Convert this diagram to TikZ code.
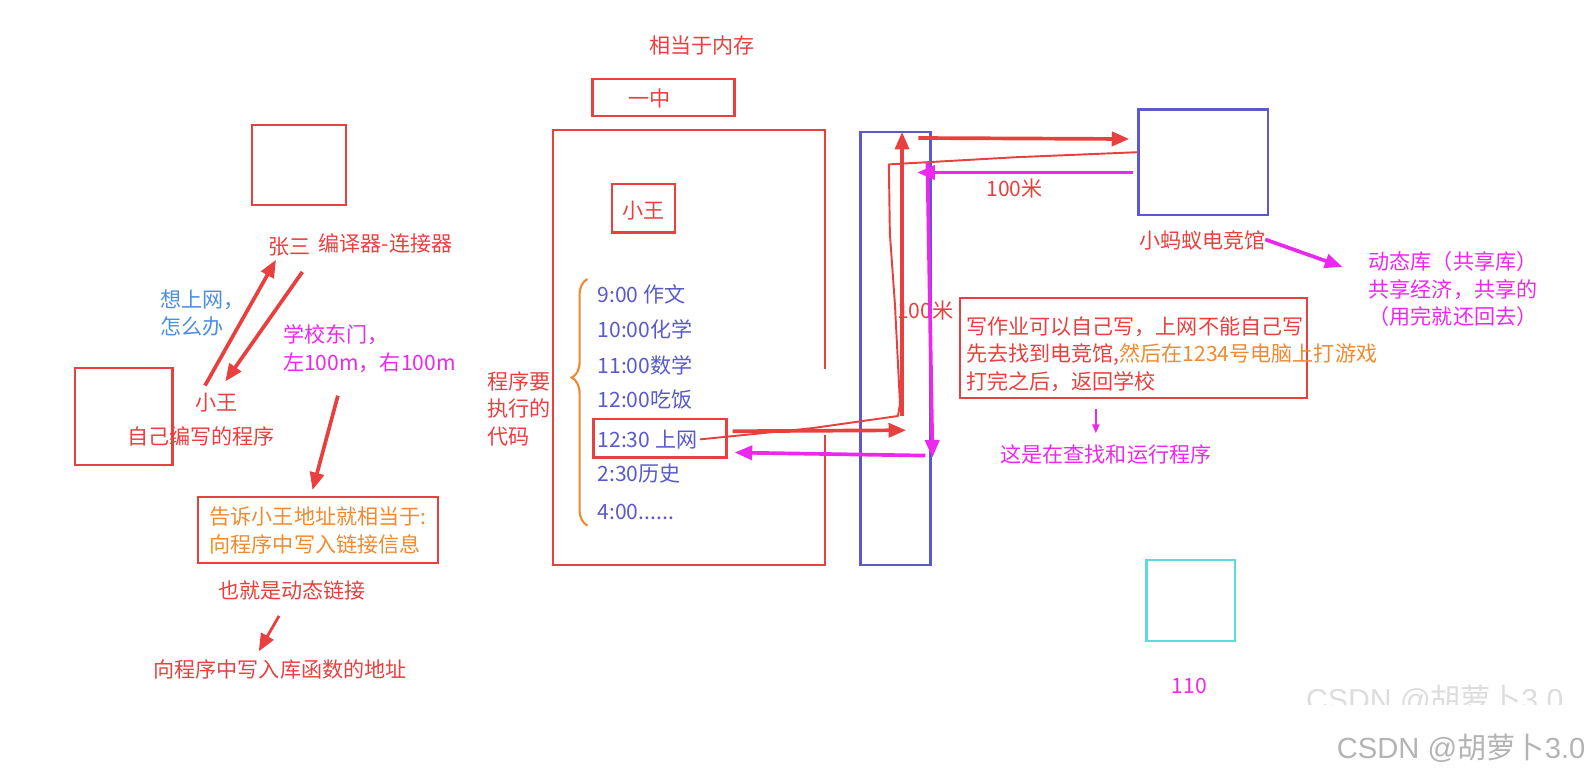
\documentclass[tikz,border=0pt]{standalone}
\usepackage{fontspec}
\setmainfont{Noto Sans CJK SC}
\newfontfamily\marksans{Liberation Sans}
\usetikzlibrary{arrows.meta,decorations.pathreplacing}
\definecolor{penred}{HTML}{E8403F}
\definecolor{penpink}{HTML}{EC28EC}
\definecolor{penorange}{HTML}{EF8A30}
\definecolor{penblue}{HTML}{5A5ACB}
\definecolor{penteal}{HTML}{5ADCDC}
\definecolor{penskyblue}{HTML}{4C8EE0}
\definecolor{markgray}{HTML}{B4B4B4}
\newdimen\pxu \pxu=0.5774pt
\tikzset{every node/.style={inner sep=1pt, font=\fontsize{12}{15.8}\selectfont},
  redbox/.style={draw=penred, line width=1.3pt, inner sep=0pt},
  bluebox/.style={draw=penblue, line width=1.3pt, inner sep=0pt},
  tealbox/.style={draw=penteal, line width=1.3pt, inner sep=0pt},
  redtext/.style={text=penred},
  pinktext/.style={text=penpink},
  listtext/.style={text=penblue, anchor=west},
  redarrow/.style={draw=penred, line width=2.1pt, -{Triangle[length=10pt,width=8pt]}},
  pinkarrow/.style={draw=penpink, line width=2.1pt, -{Triangle[length=10pt,width=8pt]}},
  handline/.style={draw=penred, line width=1.1pt, line join=round}}

\begin{document}
\begin{tikzpicture}[x=0.020294cm, y=-0.020294cm]
  \useasboundingbox (0,0) rectangle (1568,763);
  % left: the program and the linker
  \node[redbox, minimum width=93\pxu, minimum height=79\pxu] (zsbox) at (294.5,162.5) {};
  \node[redbox, minimum width=96\pxu, minimum height=95\pxu] (xwbox) at (122,410.5) {};
  \node[redtext] (zs) at (285,243) {张三};
  \node[redtext] (linker) at (380,240) {编译器-连接器};
  \node[text=penskyblue, anchor=west, align=left] (ask) at (156,308.5) {想上网，\\怎么办};
  \node[pinktext, anchor=west, align=left] (gate) at (277,343.5) {学校东门，\\左100m，右100m};
  \node[redtext] (xw) at (213,397) {小王};
  \node[redtext] (own) at (198,430) {自己编写的程序};
  \node[redbox, minimum width=237\pxu, minimum height=65\pxu, text=penorange, align=left]
    (info) at (313.5,522.5) {告诉小王地址就相当于:\\向程序中写入链接信息};
  \node[redtext] (dyn) at (288,582) {也就是动态链接};
  \node[redtext] (libaddr) at (276,660) {向程序中写入库函数的地址};
  \coordinate (a1s) at (202,380); \coordinate (a1e) at (272,256);
  \coordinate (a2s) at (298,268); \coordinate (a2e) at (222,376);
  \coordinate (a3s) at (333,390); \coordinate (a3e) at (308,483);
  \coordinate (a4s) at (275,607); \coordinate (a4e) at (255,642);
  \draw[redarrow] (a1s) -- (a1e);
  \draw[redarrow] (a2s) -- (a2e);
  \draw[redarrow] (a3s) -- (a3e);
  \draw[redarrow, line width=1.6pt] (a4s) -- (a4e);
  % middle: memory
  \node[redtext] (memo) at (692,45) {相当于内存};
  \node[redbox, minimum width=140\pxu, minimum height=36\pxu] (school) at (654,96) {};
  \node[redtext] (yz) at (640,97) {一中};
  \draw[penred, line width=1.3pt] (813,364) -- (813,128) -- (545,128) -- (545,557) -- (813,557) -- (813,429);
  \node[redbox, minimum width=62\pxu, minimum height=48\pxu] (xwmem) at (634,205) {};
  \node[redtext] (xwm) at (634,208) {小王};
  \node[listtext] (l1) at (587,290) {9:00 作文};
  \node[listtext] (l2) at (587,325) {10:00化学};
  \node[listtext] (l3) at (587,360) {11:00数学};
  \node[listtext] (l4) at (587,394) {12:00吃饭};
  \node[listtext] (l5) at (587,433) {12:30 上网};
  \node[listtext] (l6) at (587,467) {2:30历史};
  \node[listtext] (l7) at (587,505) {4:00......};
  \node[redbox, minimum width=131\pxu, minimum height=38\pxu] (netbox) at (650.5,432) {};
  \draw[penorange, line width=1.2pt, decorate, decoration={brace, amplitude=9pt, aspect=0.6}]
    (579,518) -- (579,275);
  \node[redtext, anchor=west, align=left] (code) at (478,403) {程序要\\执行的\\代码};
  \node[bluebox, minimum width=69\pxu, minimum height=427\pxu] (road) at (882.5,343.5) {};
  % right: the game hall
  \node[bluebox, minimum width=128\pxu, minimum height=104\pxu] (hall) at (1186,160) {};
  \node[redtext] (hallname) at (1185,237) {小蚂蚁电竞馆};
  \node[pinktext, align=center] (shared) at (1432,285) {动态库（共享库）\\共享经济，共享的\\（用完就还回去）};
  \node[redbox, minimum width=342\pxu, minimum height=98\pxu] (note) at (1117,343) {};
  \node[redtext, anchor=west, align=left] (notetext) at (950,349)
    {写作业可以自己写，上网不能自己写\\先去找到电竞馆,{\color{penorange}然后在1234号电脑上打游戏}\\打完之后，返回学校};
  \node[pinktext] (search) at (1090,448) {这是在查找和运行程序};
  \node[redtext] (m1) at (1000,186) {100米};
  \node[redtext] (m2) at (912,306) {100米};
  \node[tealbox, minimum width=87\pxu, minimum height=80\pxu] (police) at (1173.5,592) {};
  \node[pinktext] (num) at (1172,676) {110};
  \coordinate (r1s) at (722,425); \coordinate (r1e) at (893,424);
  \coordinate (r2s) at (889,410); \coordinate (r2e) at (889,130);
  \coordinate (r3s) at (905,136); \coordinate (r3e) at (1113,137);
  \coordinate (p1s) at (1117,170); \coordinate (p1e) at (904,170);
  \coordinate (p2s) at (914,160); \coordinate (p2e) at (919,451);
  \coordinate (p3s) at (912,449); \coordinate (p3e) at (724,446);
  \coordinate (p4s) at (1080,403); \coordinate (p4e) at (1080,427);
  \coordinate (p5s) at (1247,236); \coordinate (p5e) at (1323,263);
  \draw[handline] (690,433) -- (800,422) -- (885,410) -- (887,398) -- (882,300) -- (877,230)
    -- (876,162) -- (1000,155) -- (hall.west |- 0,150);
  \draw[redarrow] (r1s) -- (r1e);
  \draw[redarrow] (r2s) -- (r2e);
  \draw[redarrow] (r3s) -- (r3e);
  \draw[pinkarrow] (p1s) -- (p1e);
  \draw[pinkarrow] (p2s) -- (p2e);
  \draw[pinkarrow] (p3s) -- (p3e);
  \draw[pinkarrow, line width=0.9pt, -{Triangle[length=5pt,width=4pt]}] (p4s) -- (p4e);
  \draw[pinkarrow] (p5s) -- (p5e);
  % watermark
  \begin{scope}
    \clip (1250,660) rectangle (1568,694);
    \node[text=markgray!45, font=\fontsize{17.2}{20}\selectfont] (wm1) at (1414,690) {{\marksans CSDN @}胡萝卜{\marksans 3.0}};
  \end{scope}
  \node[text=markgray, font=\fontsize{16.6}{20}\selectfont] (wm2) at (1440,737) {{\marksans CSDN @}胡萝卜{\marksans 3.0}};
\end{tikzpicture}
\end{document}
